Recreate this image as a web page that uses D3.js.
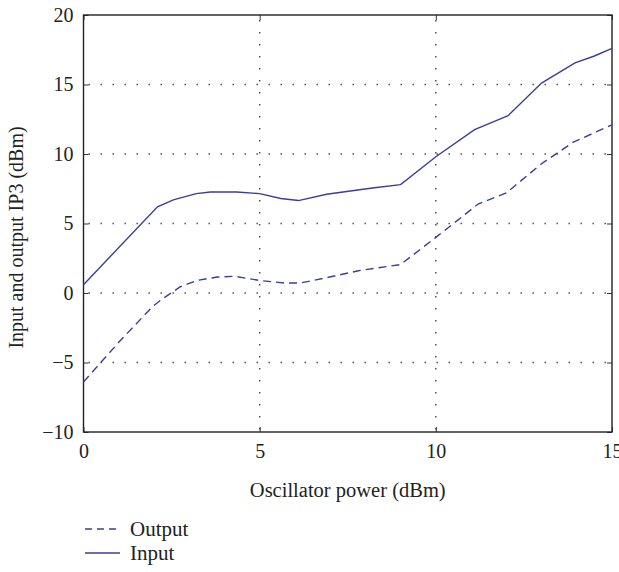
<!DOCTYPE html>
<html><head><meta charset="utf-8">
<script src="https://cdn.jsdelivr.net/npm/d3@7"></script>
<style>body{margin:0;background:#fff}svg{display:block}text{font-family:"Liberation Serif","DejaVu Serif",serif;fill:#222}</style>
</head><body><svg id="c" width="619" height="572"></svg>
<script>
const xTicks=[0,5,10,15];
const yTicks=[-10,-5,0,5,10,15,20];
const inputX=[0,2.1,2.55,3.2,3.6,4.35,5.0,5.6,6.1,6.9,8.2,9.0,10,11.1,11.9,12.05,13,13.95,14.5,15];
const inputY=[0.6,6.2,6.7,7.15,7.27,7.27,7.15,6.8,6.65,7.1,7.55,7.8,9.8,11.75,12.6,12.75,15.1,16.55,17.05,17.6];
const outputX=[0,1.0,1.95,2.2,2.75,3.25,3.8,4.3,5.0,5.7,6.15,6.9,7.8,9.0,10.0,11.2,12.0,13.0,13.9,15];
const outputY=[-6.4,-3.55,-1.0,-0.5,0.45,0.92,1.15,1.2,0.9,0.72,0.72,1.1,1.6,2.05,4.0,6.4,7.2,9.3,10.85,12.1];
const seriesNames=["Output","Input"];

const svg=d3.select("#c");
const L=83.5,R=612,T=15,B=432;
const x=d3.scaleLinear().domain([0,15]).range([L,R]);
const y=d3.scaleLinear().domain([-10,20]).range([B,T]);
const col="#3a3e98";

// grid
const g=svg.append("g");
g.selectAll(".gy").data(yTicks.filter(v=>v>-10&&v<20)).enter().append("line")
 .attr("x1",L).attr("x2",R).attr("y1",d=>y(d)).attr("y2",d=>y(d))
 .attr("stroke","#444").attr("stroke-width",1.4).attr("stroke-dasharray","1.4,10.6").attr("stroke-dashoffset",-5);
g.selectAll(".gx").data(xTicks.filter(v=>v>0&&v<15)).enter().append("line")
 .attr("y1",T).attr("y2",B).attr("x1",d=>x(d)).attr("x2",d=>x(d))
 .attr("stroke","#444").attr("stroke-width",1.4).attr("stroke-dasharray","1.4,10.6").attr("stroke-dashoffset",-5);

// axes with inward ticks
const ax=svg.append("g");
ax.append("g").attr("transform",`translate(0,${B})`).call(d3.axisBottom(x).tickValues(xTicks).tickSize(-5).tickPadding(12).tickFormat(d3.format("d")));
ax.append("g").attr("transform",`translate(0,${T})`).call(d3.axisTop(x).tickValues(xTicks).tickSize(-5).tickFormat(""));
ax.append("g").attr("transform",`translate(${L},0)`).call(d3.axisLeft(y).tickValues(yTicks).tickSize(-5).tickPadding(10).tickFormat(d=>d<0?"\u2212"+Math.abs(d):d));
ax.append("g").attr("transform",`translate(${R},0)`).call(d3.axisRight(y).tickValues(yTicks).tickSize(-5).tickFormat(""));
ax.selectAll(".domain").remove();
ax.selectAll("g").attr("font-family",null).attr("font-size",null);
ax.selectAll(".tick line").attr("stroke","#333").attr("stroke-width",1);
ax.selectAll(".tick text").style("font-size","20px").attr("fill","#222").style("font-family",'"Liberation Serif",serif');
svg.append("rect").attr("x",L).attr("y",T).attr("width",R-L).attr("height",B-T).attr("fill","none").attr("stroke","#222").attr("stroke-width",1.4);

// lines
const line=d3.line().x(d=>x(d[0])).y(d=>y(d[1]));
const outD=outputX.map((v,i)=>[v,outputY[i]]);
const inD=inputX.map((v,i)=>[v,inputY[i]]);
svg.append("path").datum(outD).attr("d",line).attr("fill","none").attr("stroke",col).attr("stroke-width",1.4).attr("stroke-dasharray","8,5");
svg.append("path").datum(inD).attr("d",line).attr("fill","none").attr("stroke",col).attr("stroke-width",1.4);

// labels
svg.append("text").attr("x",(L+R)/2).attr("y",497).attr("text-anchor","middle").style("font-size","20.5px").text("Oscillator power (dBm)");
svg.append("text").attr("transform",`translate(23,${(T+B)/2+14}) rotate(-90)`).attr("text-anchor","middle").style("font-size","20px").text("Input and output IP3 (dBm)");

// legend
const lg=svg.append("g");
[0,1].forEach(i=>{
  const yy=529+i*24;
  lg.append("line").attr("x1",85).attr("x2",120).attr("y1",yy).attr("y2",yy).attr("stroke",col).attr("stroke-width",1.4)
   .attr("stroke-dasharray",i===0?"7,5":null);
  lg.append("text").attr("x",130).attr("y",yy+6.5).style("font-size","21px").text(seriesNames[i]);
});
</script></body></html>
